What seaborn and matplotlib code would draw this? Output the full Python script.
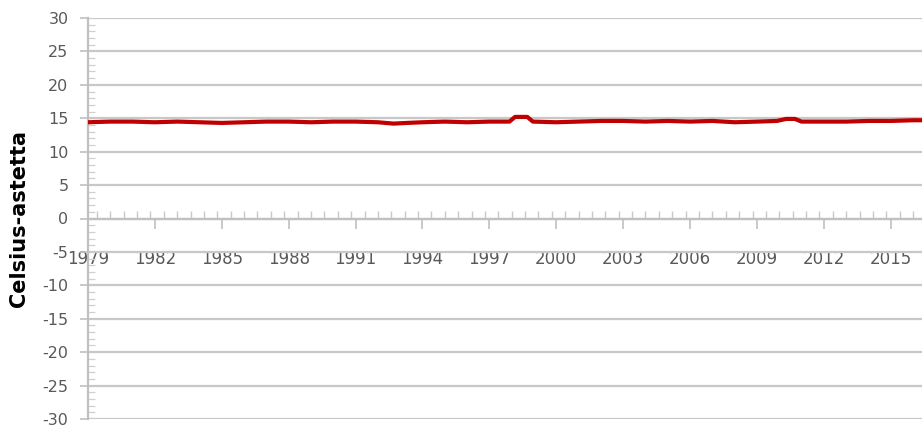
import matplotlib
matplotlib.use("Agg")
import matplotlib.pyplot as plt
from matplotlib.ticker import MultipleLocator
import pandas as pd
import seaborn as sns

# Data (decimal year, temperature in Celsius)
years = [1979.0, 1980.0, 1981.0, 1982.0, 1983.0, 1984.0, 1985.0, 1986.0,
         1987.0, 1988.0, 1989.0, 1990.0, 1991.0, 1992.0, 1992.7, 1993.3,
         1994.0, 1995.0, 1996.0, 1997.0, 1997.9, 1998.15, 1998.7, 1998.95,
         2000.0, 2001.0, 2002.0, 2003.0, 2004.0, 2005.0, 2006.0, 2007.0,
         2008.0, 2009.0, 2009.9, 2010.3, 2010.7, 2011.0, 2012.0, 2013.0,
         2014.0, 2015.0, 2016.0, 2016.5]
temps = [14.4, 14.5, 14.5, 14.4, 14.5, 14.4, 14.3, 14.4,
         14.5, 14.5, 14.4, 14.5, 14.5, 14.4, 14.2, 14.3,
         14.4, 14.5, 14.4, 14.5, 14.5, 15.2, 15.2, 14.5,
         14.4, 14.5, 14.6, 14.6, 14.5, 14.6, 14.5, 14.6,
         14.4, 14.5, 14.6, 14.9, 14.9, 14.5, 14.5, 14.5,
         14.6, 14.6, 14.7, 14.7]
year_ticks = list(range(1979, 2017, 3))
y_ticks = list(range(-30, 31, 5))

df = pd.DataFrame({'Vuosi': years, 'Lampotila': temps})

sns.set_theme(style='white')
plt.rcParams['font.family'] = ['DejaVu Sans']
plt.rcParams['axes.unicode_minus'] = False

fig = plt.figure(figsize=(9.22, 4.28), dpi=100)
ax = fig.add_axes([88 / 922, 9 / 428, 1 - 88 / 922, 401 / 428])

sns.lineplot(data=df, x='Vuosi', y='Lampotila', ax=ax, color='#c00000',
             linewidth=3, zorder=3)

ax.set_xlim(1979, 2016.4)
ax.set_ylim(-30, 30)
ax.set_xticks(year_ticks)
ax.set_xticklabels([str(y) for y in year_ticks])
ax.set_yticks(y_ticks)
ax.xaxis.set_minor_locator(MultipleLocator(0.6))
ax.yaxis.set_minor_locator(MultipleLocator(1))

ax.grid(axis='y', color='#c8c8c8', linewidth=1.6)
ax.set_axisbelow(True)

for side in ['top', 'right']:
    ax.spines[side].set_visible(False)
ax.spines['bottom'].set_position(('data', 0))
ax.spines['bottom'].set_color('#c0c0c0')
ax.spines['bottom'].set_linewidth(1.6)
ax.spines['left'].set_color('#c0c0c0')
ax.spines['left'].set_linewidth(1.6)

ax.tick_params(axis='x', which='major', direction='out', length=7, width=1.2,
               color='#c0c0c0', pad=16, labelsize=12, labelcolor='#595959')
ax.tick_params(axis='x', which='minor', direction='in', length=6, width=1.0,
               color='#c8c8c8')
ax.tick_params(axis='y', which='major', direction='out', length=6, width=1.2,
               color='#c0c0c0', pad=8, labelsize=11.5, labelcolor='#595959')
ax.tick_params(axis='y', which='minor', direction='in', length=5, width=0.9,
               color='#d0d0d0')
ax.tick_params(left=True, bottom=True, which='both')

ax.set_xlabel('')
ax.set_ylabel('Celsius-astetta', fontsize=15, fontweight='bold', color='black')
ax.yaxis.set_label_coords(-0.071, 0.5)

fig.savefig('out.png', dpi=100)
